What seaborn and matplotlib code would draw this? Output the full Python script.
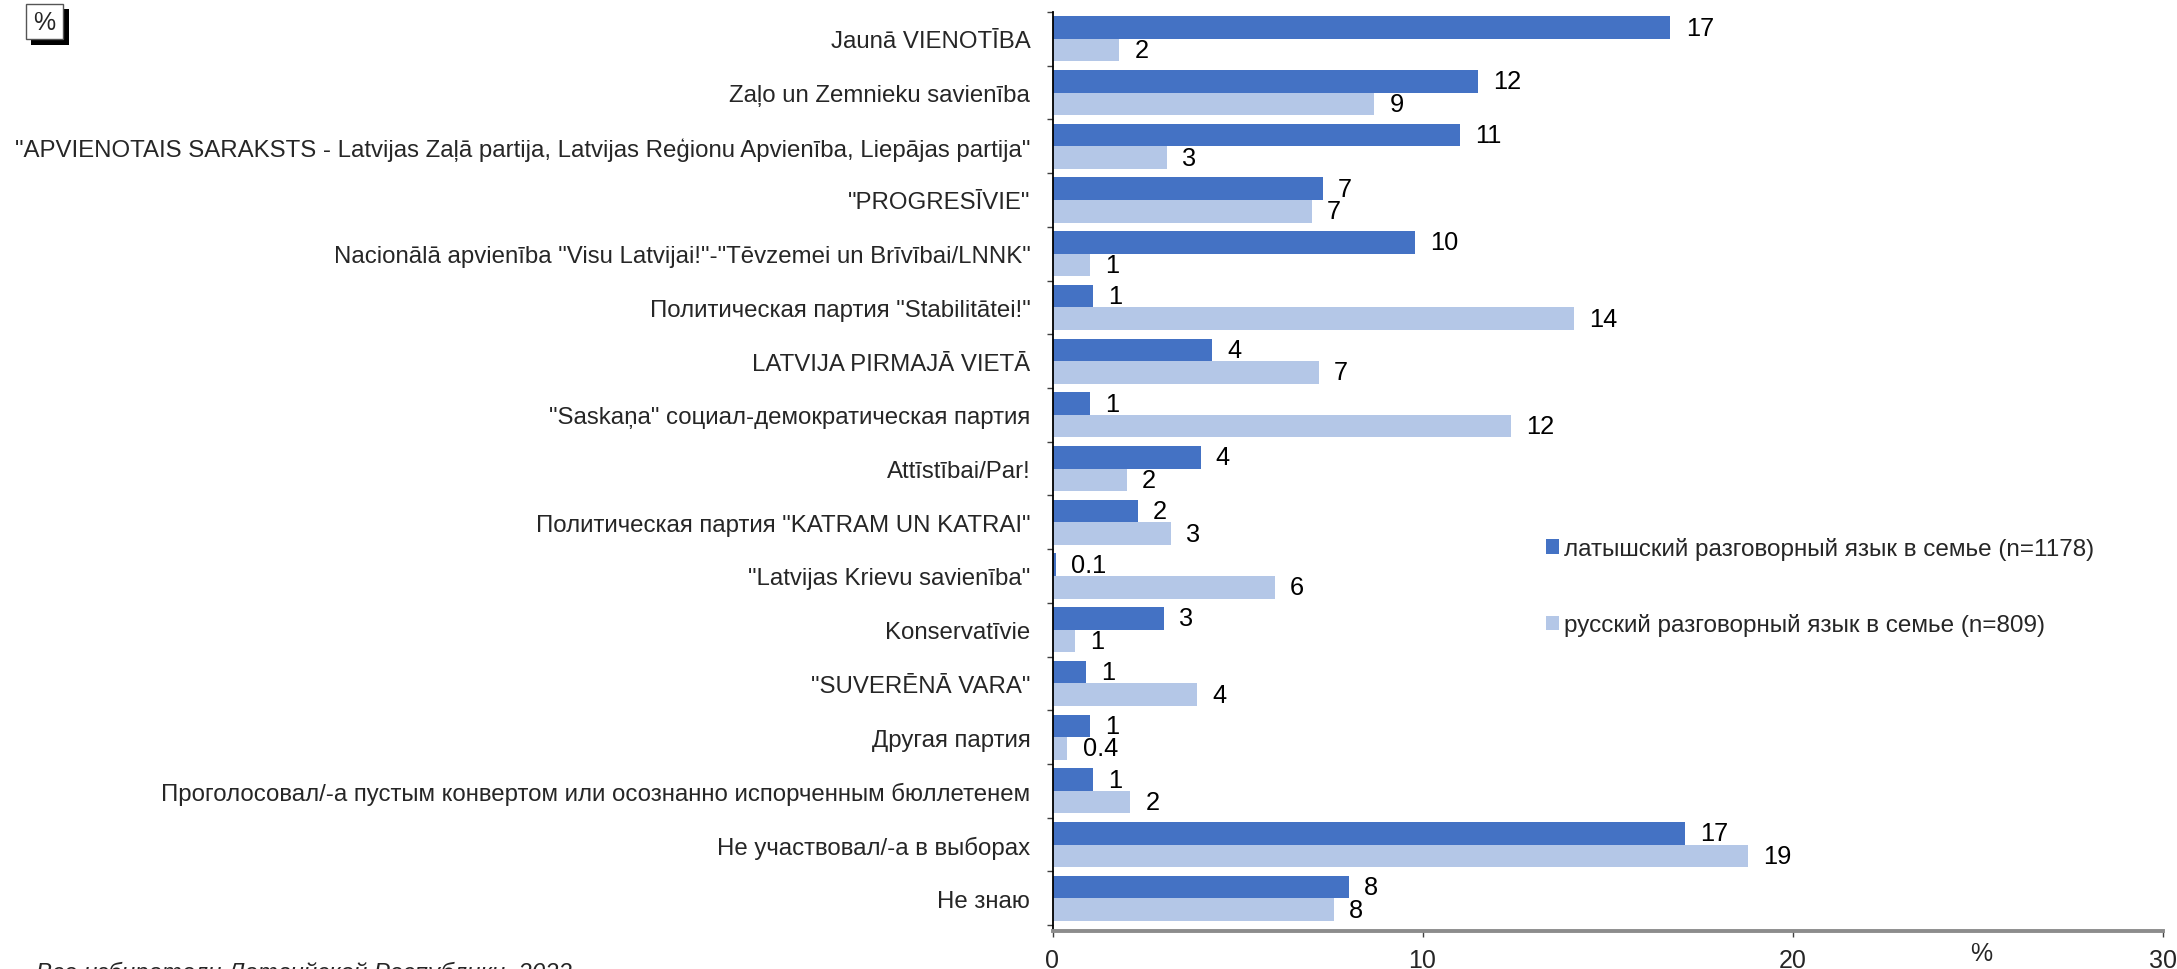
import numpy as np
import pandas as pd
import matplotlib
matplotlib.use("Agg")
import matplotlib.pyplot as plt
import seaborn as sns
from matplotlib.patches import Rectangle

categories = [
    "Jaunā VIENOTĪBA",
    "Zaļo un Zemnieku savienība",
    "\"APVIENOTAIS SARAKSTS - Latvijas Zaļā partija, Latvijas Reģionu Apvienība, Liepājas partija\"",
    "\"PROGRESĪVIE\"",
    "Nacionālā apvienība \"Visu Latvijai!\"-\"Tēvzemei un Brīvībai/LNNK\"",
    "Политическая партия \"Stabilitātei!\"",
    "LATVIJA PIRMAJĀ VIETĀ",
    "\"Saskaņa\" социал-демократическая партия",
    "Attīstībai/Par!",
    "Политическая партия \"KATRAM UN KATRAI\"",
    "\"Latvijas Krievu savienība\"",
    "Konservatīvie",
    "\"SUVERĒNĀ VARA\"",
    "Другая партия",
    "Проголосовал/-а пустым конвертом или осознанно испорченным бюллетенем",
    "Не участвовал/-а в выборах",
    "Не знаю",
]
latvian_values = [16.7, 11.5, 11.0, 7.3, 9.8, 1.1, 4.3, 1.0, 4.0, 2.3, 0.1, 3.0, 0.9, 1.0, 1.1, 17.1, 8.0]
russian_values = [1.8, 8.7, 3.1, 7.0, 1.0, 14.1, 7.2, 12.4, 2.0, 3.2, 6.0, 0.6, 3.9, 0.4, 2.1, 18.8, 7.6]
latvian_labels = ["17", "12", "11", "7", "10", "1", "4", "1", "4", "2", "0.1", "3", "1", "1", "1", "17", "8"]
russian_labels = ["2", "9", "3", "7", "1", "14", "7", "12", "2", "3", "6", "1", "4", "0.4", "2", "19", "8"]
series_names = ["латышский разговорный язык в семье (n=1178)",
                "русский разговорный язык в семье (n=809)"]
x_ticks = [0, 10, 20, 30]
source_text = "Все избиратели Латвийской Республики, 2022"

DARK = "#4472C4"
LIGHT = "#B4C7E7"
FS = 17.3

sns.set_style("white")
plt.rcParams["font.family"] = ["Liberation Sans", "DejaVu Sans"]

df = pd.DataFrame({
    "party": categories * 2,
    "value": latvian_values + russian_values,
    "group": [series_names[0]] * len(categories) + [series_names[1]] * len(categories),
})

W, H = 2177, 970
fig = plt.figure(figsize=(W / 100, H / 100), dpi=100)
ax = fig.add_axes([1052.5 / W, 1 - 932 / H, (2162.5 - 1052.5) / W, (932 - 13) / H])

sns.barplot(data=df, y="party", x="value", hue="group", order=categories,
            hue_order=series_names, palette=[DARK, LIGHT], orient="h",
            width=0.84, saturation=1, errorbar=None, linewidth=0, ax=ax)

for cont, labs in zip(ax.containers, [latvian_labels, russian_labels]):
    ax.bar_label(cont, labels=labs, padding=11, fontsize=18.3, color="black")

n = len(categories)
ax.set_xlim(0, 30)
ax.set_ylim(n - 0.5 + 0.11, -0.5)
ax.set_xticks(x_ticks)
ax.set_xticklabels([str(t) for t in x_ticks], fontsize=18)
ax.set_yticks(range(n))
ax.set_yticklabels(categories, fontsize=FS)
ax.set_yticks(np.arange(-0.5, n, 1.0), minor=True)
ax.tick_params(axis="y", which="major", length=0, pad=16)
ax.tick_params(axis="y", which="minor", length=4.5, width=1, color="#404040", direction="out", left=True)
ax.tick_params(axis="x", which="major", length=4.5, width=1, color="#404040", direction="out", pad=8, bottom=True)
ax.set_xlabel("")
ax.set_ylabel("")

for s in ["top", "right"]:
    ax.spines[s].set_visible(False)
ax.spines["left"].set_color("black")
ax.spines["left"].set_linewidth(1.3)
ax.spines["bottom"].set_color("#8C8C8C")
ax.spines["bottom"].set_linewidth(2.8)

handles, labels = ax.get_legend_handles_labels()
ax.legend(handles, labels, loc="upper left",
          bbox_to_anchor=(1546 / W, 1 - 538 / H), bbox_transform=fig.transFigure,
          frameon=False, fontsize=17.5, handlelength=0.55, handleheight=0.55,
          handletextpad=0.2, labelspacing=2.2, borderpad=0, borderaxespad=0)

fig.text(1981 / W, 1 - 954 / H, "%", fontsize=18, ha="center", va="center")

# % box with shadow
fig.add_artist(Rectangle((31 / W, 1 - 46 / H), 38 / W, 36 / H, transform=fig.transFigure,
                         facecolor="black", edgecolor="none"))
fig.add_artist(Rectangle((26 / W, 1 - 40 / H), 37 / W, 35 / H, transform=fig.transFigure,
                         facecolor="white", edgecolor="#555555", linewidth=1))
fig.text(44.5 / W, 1 - 22.5 / H, "%", fontsize=18, ha="center", va="center")

fig.text(36 / W, 1 - 980 / H, source_text, fontsize=FS, style="italic",
         ha="left", va="baseline")

fig.savefig("out.png", dpi=100)
